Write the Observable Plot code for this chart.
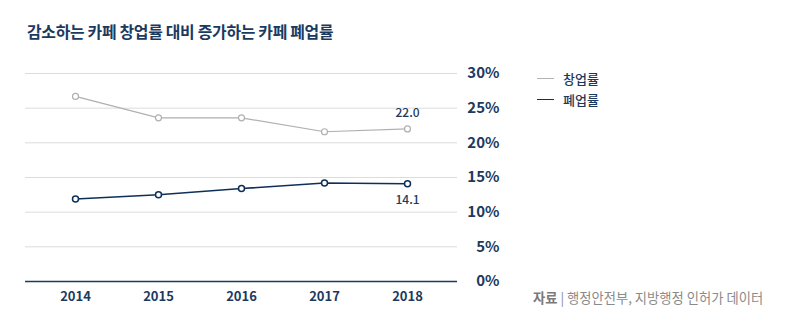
<!DOCTYPE html>
<html><head><meta charset="utf-8">
<script src="https://cdn.jsdelivr.net/npm/d3@7"></script>
<script src="https://cdn.jsdelivr.net/npm/@observablehq/plot@0.6"></script>
<style>
body{margin:0;background:#fff;font-family:"Noto Sans CJK KR","Noto Sans",sans-serif;}
#wrap{position:relative;width:804px;height:334px;overflow:hidden;}
#title{position:absolute;left:27px;top:20px;font-size:15.9px;font-weight:700;color:#1b3a5e;letter-spacing:-0.3px;}
#legend{position:absolute;left:537px;top:68px;font-size:13px;color:#1b3a5e;font-weight:500;}
.li{display:flex;align-items:center;height:21px;}
.sw{width:17px;height:0;margin-right:9px;}
#caption{position:absolute;left:533px;top:288px;font-size:13.3px;color:#8a8a8a;}
#caption b{font-weight:700;color:#7a7a7a;}
#chart{position:absolute;left:0;top:0;}
</style></head>
<body><div id="wrap">
<div id="chart"></div>
<div id="title">감소하는 카페 창업률 대비 증가하는 카페 폐업률</div>
<div id="legend">
<div class="li"><span class="sw" style="border-top:1.2px solid #b4b4b4"></span>창업률</div>
<div class="li"><span class="sw" style="border-top:1.5px solid #0e2f58"></span>폐업률</div>
</div>
<div id="caption"><b>자료</b> | 행정안전부, 지방행정 인허가 데이터</div>
</div>
<script>
const years = [2014, 2015, 2016, 2017, 2018];
const openRate = [26.7, 23.6, 23.6, 21.6, 22.0];
const closeRate = [11.9, 12.5, 13.4, 14.2, 14.1];
const yTicks = [0, 5, 10, 15, 20, 25, 30];
const seriesNames = ["창업률", "폐업률"];

const navy = "#0e2f58";
const gray = "#b0b0b0";
const openData = years.map((y, i) => ({year: y, value: openRate[i], s: seriesNames[0]}));
const closeData = years.map((y, i) => ({year: y, value: closeRate[i], s: seriesNames[1]}));
const last = years.length - 1;

const chart = Plot.plot({
  width: 804, height: 334,
  marginTop: 73, marginBottom: 53, marginLeft: 25, marginRight: 347,
  style: {fontFamily: '"Noto Sans CJK KR","Noto Sans",sans-serif', background: "transparent"},
  x: {type: "point", domain: years, padding: 0.6},
  y: {domain: [0, 30]},
  marks: [
    Plot.gridY(yTicks.filter(d => d > 0), {stroke: "#dcdcdc", strokeOpacity: 1, strokeWidth: 1}),
    Plot.ruleY([0], {stroke: "#1b3a5e", strokeWidth: 1.3}),
    Plot.axisY(yTicks, {anchor: "right", tickSize: 0, tickPadding: 0, textAnchor: "end", dx: 42,
      tickFormat: d => d + "%", fontSize: 15, fontWeight: 700, fill: "#1b3a5e", label: null}),
    Plot.axisX(years, {tickSize: 0, tickPadding: 10, fontSize: 13, fontWeight: 700, fill: "#1b3a5e", label: null, tickFormat: d => String(d)}),
    Plot.line(openData, {x: "year", y: "value", stroke: gray, strokeWidth: 1.2}),
    Plot.dot(openData, {x: "year", y: "value", r: 3, stroke: gray, strokeWidth: 1.2, fill: "white"}),
    Plot.line(closeData, {x: "year", y: "value", stroke: navy, strokeWidth: 1.5}),
    Plot.dot(closeData, {x: "year", y: "value", r: 3, stroke: navy, strokeWidth: 1.5, fill: "white"}),
    Plot.text([openData[last]], {x: "year", y: "value", text: d => d.value.toFixed(1), dy: -16, fontSize: 12, fontWeight: 500, fill: "#1b3a5e"}),
    Plot.text([closeData[last]], {x: "year", y: "value", text: d => d.value.toFixed(1), dy: 16, fontSize: 12, fontWeight: 500, fill: "#1b3a5e"})
  ]
});
document.getElementById("chart").appendChild(chart);
</script>
</body></html>
